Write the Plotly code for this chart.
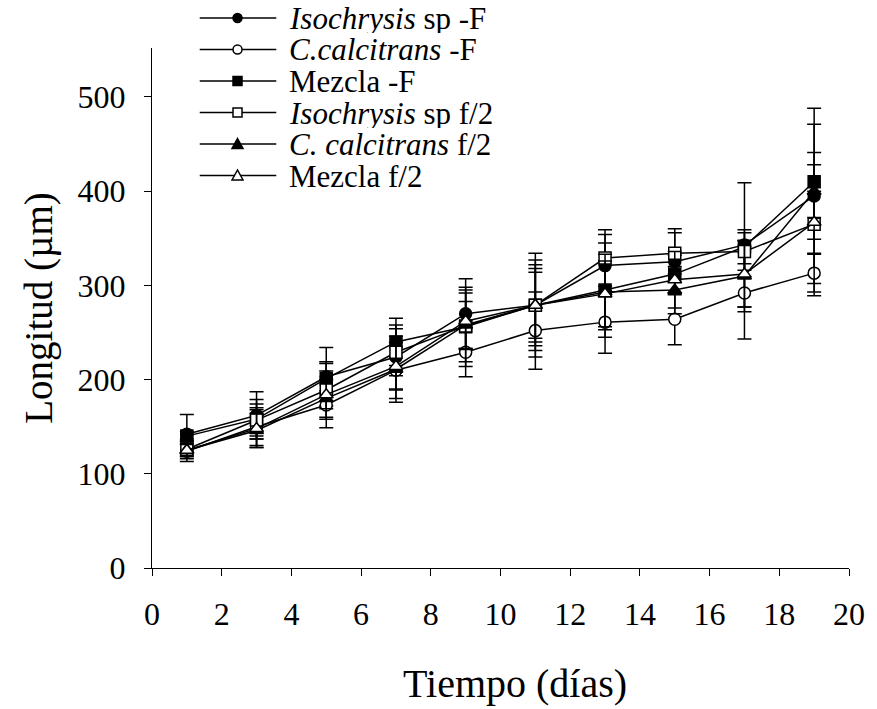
import plotly.graph_objects as go

dias = [1, 3, 5, 7, 9, 11, 13, 15, 17, 19]

iso_F = [142, 162, 203, 224, 270, 279, 321, 325, 343, 395]
iso_F_err = [21, 25, 31, 34, 37, 55, 33, 35, 66, 93]

cal_F = [124, 150, 173, 210, 229, 252, 261, 264, 292, 313]
cal_F_err = [8, 20, 15, 30, 26, 41, 33, 27, 49, 20]

mez_F = [140, 158, 201, 240, 256, 279, 295, 312, 341, 410]
mez_F_err = [5, 21, 16, 25, 42, 43, 50, 20, 18, 61]

iso_f2 = [126, 157, 189, 229, 257, 279, 329, 334, 336, 365]
iso_f2_err = [8, 17, 20, 25, 38, 39, 30, 22, 20, 76]

cal_f2 = [125, 146, 180, 211, 258, 279, 293, 295, 310, 400]
cal_f2_err = [6, 18, 20, 35, 25, 48, 40, 25, 38, 28]

mez_f2 = [125, 148, 184, 214, 262, 279, 291, 306, 312, 367]
mez_f2_err = [12, 20, 35, 25, 30, 35, 35, 30, 35, 33]

names = ["<i>Isochrysis</i> sp -F", "<i>C.calcitrans</i> -F", "Mezcla -F",
         "<i>Isochrysis</i> sp f/2", "<i>C. calcitrans</i> f/2", "Mezcla f/2"]
series = [iso_F, cal_F, mez_F, iso_f2, cal_f2, mez_f2]
errors = [iso_F_err, cal_F_err, mez_F_err, iso_f2_err, cal_f2_err, mez_f2_err]
symbols = ["circle", "circle", "square", "square", "triangle-up", "triangle-up"]
fills = ["black", "white", "black", "white", "black", "white"]

W, H = 877, 709
ML, MR, MT, MB = 152, 24, 48, 141
PW, PH = W - ML - MR, H - MT - MB

fig = go.Figure()
for nm, ys, er, sym, fc in zip(names, series, errors, symbols, fills):
    fig.add_trace(go.Scatter(
        x=dias, y=ys, name=nm, mode="lines+markers",
        line=dict(color="black", width=1.5),
        marker=dict(symbol=sym, size=12, color=fc, line=dict(color="black", width=1.5)),
        error_y=dict(type="data", array=er, visible=True, color="black", thickness=1.5, width=7),
    ))

font_family = "Liberation Serif, Times New Roman, serif"

# custom legend (paper coordinates computed from pixel layout)
def px_to_paper_x(px):
    return (px - ML) / PW

def px_to_paper_y(py):
    return (H - MB - py) / PH

shapes = []
annotations = []
row_y = [18, 49.5, 81, 112.5, 144, 175.5]
line_x0, line_x1, mark_x, text_x = 200, 277, 238, 288
for i, (nm, sym, fc) in enumerate(zip(names, symbols, fills)):
    yy = px_to_paper_y(row_y[i])
    shapes.append(dict(type="line", xref="paper", yref="paper",
                       x0=px_to_paper_x(line_x0), x1=px_to_paper_x(line_x1), y0=yy, y1=yy,
                       line=dict(color="black", width=1.5), layer="above"))
    common = dict(xref="paper", yref="paper", xsizemode="pixel", ysizemode="pixel",
                  xanchor=px_to_paper_x(mark_x), yanchor=yy, fillcolor=fc,
                  line=dict(color="black", width=1.5), layer="above")
    if sym == "circle":
        shapes.append(dict(type="circle", x0=-4.5, x1=4.5, y0=-4.5, y1=4.5, **common))
    elif sym == "square":
        shapes.append(dict(type="rect", x0=-4.5, x1=4.5, y0=-4.5, y1=4.5, **common))
    else:
        shapes.append(dict(type="path", path="M-5.5,-4.5 L5.5,-4.5 L0,5.5 Z", **common))
    annotations.append(dict(text=nm, xref="paper", yref="paper",
                            x=px_to_paper_x(text_x), y=yy, xanchor="left", yanchor="middle",
                            showarrow=False, height=30, valign="middle",
                            font=dict(size=31, family=font_family, color="black")))

# x-axis title placed to match the reference position
annotations.append(dict(text="Tiempo (días)", xref="paper", yref="paper",
                        x=px_to_paper_x(517), y=px_to_paper_y(683),
                        xanchor="center", yanchor="middle", showarrow=False,
                        font=dict(size=40, family=font_family, color="black")))

fig.update_layout(
    width=W, height=H,
    margin=dict(l=ML, r=MR, t=MT, b=MB),
    paper_bgcolor="white", plot_bgcolor="white",
    font=dict(family=font_family, size=32, color="black"),
    showlegend=False,
    shapes=shapes,
    annotations=annotations,
    xaxis=dict(range=[0, 20], tickvals=list(range(0, 21, 2)), showline=True,
               linecolor="black", linewidth=1.3, ticks="outside", ticklen=7,
               tickcolor="black", showgrid=False, zeroline=False,
               ticklabelstandoff=10,
               tickfont=dict(size=32)),
    yaxis=dict(range=[0, 552], tickvals=[0, 100, 200, 300, 400, 500], showline=True,
               linecolor="black", linewidth=1.3, ticks="outside", ticklen=7,
               tickcolor="black", showgrid=False, zeroline=False,
               ticklabelstandoff=12,
               title=dict(text="Longitud (µm)", font=dict(size=39), standoff=12),
               tickfont=dict(size=32)),
)

fig.write_html("out.html")
